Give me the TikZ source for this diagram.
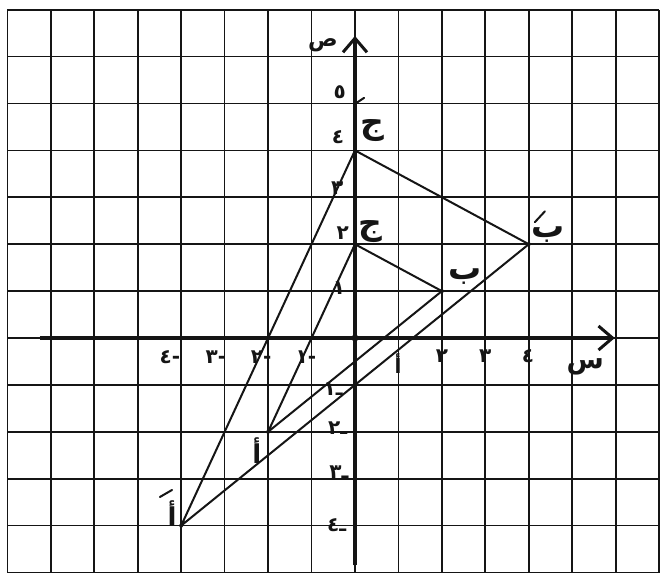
\documentclass[tikz,border=0pt]{standalone}
\usepackage{fontspec}
\newfontfamily\ar[Script=Arabic]{DejaVu Sans}
\TeXXeTstate=1
\usetikzlibrary{arrows.meta}
\definecolor{ink}{HTML}{151515}
\tikzset{
  gridline/.style={draw=ink, line width=1.7pt},
  axisline/.style={draw=ink, line width=3.2pt, -{Straight Barb[length=14pt,width=24pt,line width=3pt]}},
  tri/.style={draw=ink, line width=2pt, line join=round},
  num/.style={font=\ar\bfseries\fontsize{20}{20}\selectfont, text=ink, inner sep=0pt},
  lett/.style={font=\ar\bfseries\fontsize{33}{33}\selectfont, text=ink, inner sep=0pt},
  primemark/.style={draw=ink, line width=2pt, line cap=round},
}
\begin{document}
\begin{tikzpicture}[x=43.45pt, y=46.9pt]
\useasboundingbox (-8.170,-5.266) rectangle (7.020,7.207);
\fill[white] (-8.170,-5.266) rectangle (7.020,7.207);
% grid
\draw[gridline, xstep=1, ystep=1] (-8,-5) grid (7,7);
% axes
\coordinate (xs) at (-7.25,0);
\coordinate (xe) at (5.98,0);
\coordinate (ys) at (0,-4.85);
\coordinate (ye) at (0,6.44);
\draw[axisline] (xs) -- (xe);
\draw[axisline] (ys) -- (ye);
\fill[ink] (0,0) circle (3.5pt);
% vertices
\coordinate (A) at (-2,-2);
\coordinate (B) at (2,1);
\coordinate (C) at (0,2);
\coordinate (A1) at (-4,-4);
\coordinate (B1) at (4,2);
\coordinate (C1) at (0,4);
\draw[tri] (A) -- (B) -- (C) -- cycle;
\draw[tri] (A1) -- (B1) -- (C1) -- cycle;
\foreach \p in {A,B,C,A1,B1,C1} \fill[ink] (\p) circle (2pt);
% axis names
\node[lett, font=\ar\bfseries\fontsize{22}{22}\selectfont] (ylab) at (-0.74,6.25) {\beginR ص\endR};
\node[lett, font=\ar\bfseries\fontsize{27}{27}\selectfont] (xlab) at (5.3,-0.62) {\beginR س\endR};
% y labels
\node[num] (y5) at (-0.35,5.25) {٥};
\node[num] (y4) at (-0.39,4.29) {٤};
\node[num] (y3) at (-0.41,3.2) {٣};
\node[num] (y2) at (-0.28,2.24) {٢};
\node[num] (y1) at (-0.37,1.07) {١};
\node[num] (ym1) at (-0.5,-1.1) {ـ١};
\node[num] (ym2) at (-0.4,-1.92) {ـ٢};
\node[num] (ym3) at (-0.37,-2.87) {ـ٣};
\node[num] (ym4) at (-0.42,-4.0) {ـ٤};
% x labels
\node[num] (xm4) at (-4.26,-0.41) {-٤};
\node[num] (xm3) at (-3.2,-0.41) {-٣};
\node[num] (xm2) at (-2.16,-0.41) {-٢};
\node[num] (xm1) at (-1.13,-0.41) {-١};
\node[num] (x1) at (0.99,-0.55) {أ};
\node[num] (x2) at (2,-0.38) {٢};
\node[num] (x3) at (3,-0.38) {٣};
\node[num] (x4) at (3.98,-0.38) {٤};
% vertex labels
\node[lett] (lC1) at (0.41,4.43) {\beginR ج\endR};
\node[lett] (lC) at (0.35,2.26) {\beginR ج\endR};
\node[lett] (lB) at (2.53,1.30) {\beginR ب\endR};
\node[lett] (lB1) at (4.44,2.20) {\beginR ب\endR};
\node[lett, font=\ar\bfseries\fontsize{26}{26}\selectfont] (lA) at (-2.26,-2.39) {\beginR أ\endR};
\node[lett, font=\ar\bfseries\fontsize{26}{26}\selectfont] (lA1) at (-4.21,-3.75) {\beginR أ\endR};
% primes
\coordinate (pc1) at (0.03,5.01);
\coordinate (pc2) at (0.21,5.12);
\draw[primemark] (pc1) -- (pc2);
\coordinate (pb1) at (4.14,2.47);
\coordinate (pb2) at (4.37,2.70);
\draw[primemark] (pb1) -- (pb2);
\coordinate (pa1) at (-4.49,-3.39);
\coordinate (pa2) at (-4.21,-3.24);
\draw[primemark] (pa1) -- (pa2);
\end{tikzpicture}
\end{document}
